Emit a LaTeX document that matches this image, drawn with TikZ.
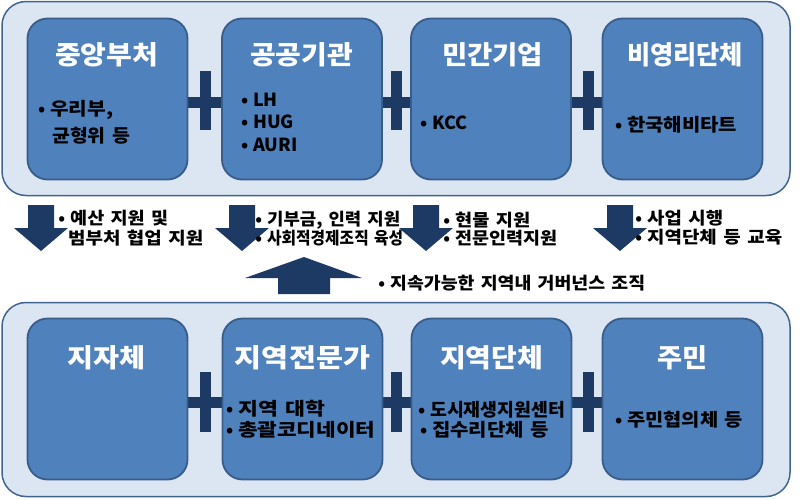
\documentclass[tikz,border=0pt]{standalone}
\usepackage{fontspec}
\setmainfont{Noto Sans CJK KR}[WordSpace=1.5]
\definecolor{panelfill}{HTML}{DCE6F2}
\definecolor{paneldraw}{HTML}{41648F}
\definecolor{boxfill}{HTML}{4F81BD}
\definecolor{boxdraw}{HTML}{385D8A}
\definecolor{navy}{HTML}{1C3A63}
\tikzset{
  panel/.style={draw=paneldraw, line width=1.5pt, fill=panelfill, rounded corners=24pt, minimum width=788pt, minimum height=194pt, inner sep=0pt},
  box/.style={draw=boxdraw, line width=1.8pt, fill=boxfill, rounded corners=20pt, minimum width=160pt, minimum height=161pt, inner sep=0pt},
  title/.style={text=white, font=\bfseries\fontsize{26}{30}\selectfont, inner sep=0pt},
  itemtxt/.style={text=black, font=\bfseries\fontsize{18}{22}\selectfont, anchor=west, inner sep=0pt},
  arrtxt/.style={text=black, font=\bfseries\fontsize{17}{20}\selectfont, anchor=west, inner sep=0pt},
  dnarr/.pic={\fill[navy] (-13,0) -- (13,0) -- (13,23) -- (27,23) -- (0,46) -- (-27,23) -- (-13,23) -- cycle;},
}
\newcommand{\bul}{\llap{•\hspace{5pt}}}
\newcommand{\fw}[2]{\resizebox{#1pt}{\height}{#2}}
\begin{document}
\begin{tikzpicture}[x=1pt,y=-1pt]
\useasboundingbox (0,0) rectangle (807,499);
% panels
\node[panel] (top) at (396,98.5) {};
\node[panel] (bot) at (396,399.5) {};
% plus horizontal bars (behind boxes)
\foreach \cx in {205,396,588}{
  \fill[navy] (\cx-20,97) rectangle (\cx+20,108);
  \fill[navy] (\cx-20,397) rectangle (\cx+20,408);
}
% top boxes
\node[box] (b1) at (107.5,99) {};
\node[box] (b2) at (302,99) {};
\node[box] (b3) at (491,99) {};
\node[box] (b4) at (682.5,99) {};
% bottom boxes
\node[box] (b5) at (107.5,399) {};
\node[box] (b6) at (302.5,399) {};
\node[box] (b7) at (491.5,399) {};
\node[box] (b8) at (682.5,399) {};
% plus vertical bars
\foreach \cx in {205,396,588}{
  \fill[navy] (\cx-5.5,71) rectangle (\cx+5.5,130);
  \fill[navy] (\cx-5.5,372) rectangle (\cx+5.5,432);
}
% titles
\node[title] (t1) at (106.5,55) {\fw{103}{중앙부처}};
\node[title] (t2) at (301.5,55) {\fw{103}{공공기관}};
\node[title] (t3) at (492.5,55) {\fw{101}{민간기업}};
\node[title] (t4) at (685,55) {\fw{116}{비영리단체}};
\node[title] (t5) at (106,358) {\fw{78}{지자체}};
\node[title] (t6) at (302.5,358) {\fw{135}{지역전문가}};
\node[title] (t7) at (491.5,358) {\fw{103}{지역단체}};
\node[title] (t8) at (682,358) {\fw{50}{주민}};
% top box items
\node[itemtxt] (i11) at (50,110) {\bul\fw{63}{우리부,}};
\node[itemtxt] (i12) at (52,136) {\fw{78}{균형위 등}};
\node[itemtxt] (i21) at (253,100) {\bul LH};
\node[itemtxt] (i22) at (253,122) {\bul HUG};
\node[itemtxt] (i23) at (253,145) {\bul AURI};
\node[itemtxt] (i31) at (432,123) {\bul KCC};
\node[itemtxt] (i41) at (627,125) {\bul\fw{110}{한국해비타트}};
% bottom box items
\node[itemtxt] (i61) at (238,409) {\bul\fw{87}{지역 대학}};
\node[itemtxt] (i62) at (238,430) {\bul\fw{137}{총괄코디네이터}};
\node[itemtxt] (i71) at (430,410) {\bul\fw{135}{도시재생지원센터}};
\node[itemtxt] (i72) at (432,430) {\bul\fw{117}{집수리단체 등}};
\node[itemtxt] (i81) at (627,420) {\bul\fw{116}{주민협의체 등}};
% down arrows
\pic at (41,205) {dnarr};
\pic at (242,205) {dnarr};
\pic at (426,205) {dnarr};
\pic at (620,205) {dnarr};
% up arrow
\fill[navy] (304,257) -- (362,278) -- (330,278) -- (330,294) -- (278,294) -- (278,278) -- (245,278) -- cycle;
% arrow texts
\node[arrtxt] (a11) at (70,218) {\bul\fw{98}{예산 지원 및}};
\node[arrtxt] (a12) at (68,238) {\fw{135}{범부처 협업 지원}};
\node[arrtxt] (a21) at (267,220) {\bul\fw{133}{기부금, 인력 지원}};
\node[arrtxt] (a22) at (267,238) {\bul\fw{136}{사회적경제조직 육성}};
\node[arrtxt] (a31) at (455,220) {\bul\fw{75}{현물 지원}};
\node[arrtxt] (a32) at (455,238) {\bul\fw{102}{전문인력지원}};
\node[arrtxt] (a41) at (647,218) {\bul\fw{76}{사업 시행}};
\node[arrtxt] (a42) at (647,237) {\bul\fw{135}{지역단체 등 교육}};
\node[arrtxt] (a51) at (390,283) {\bul\fw{255}{지속가능한 지역내 거버넌스 조직}};
\end{tikzpicture}
\end{document}
